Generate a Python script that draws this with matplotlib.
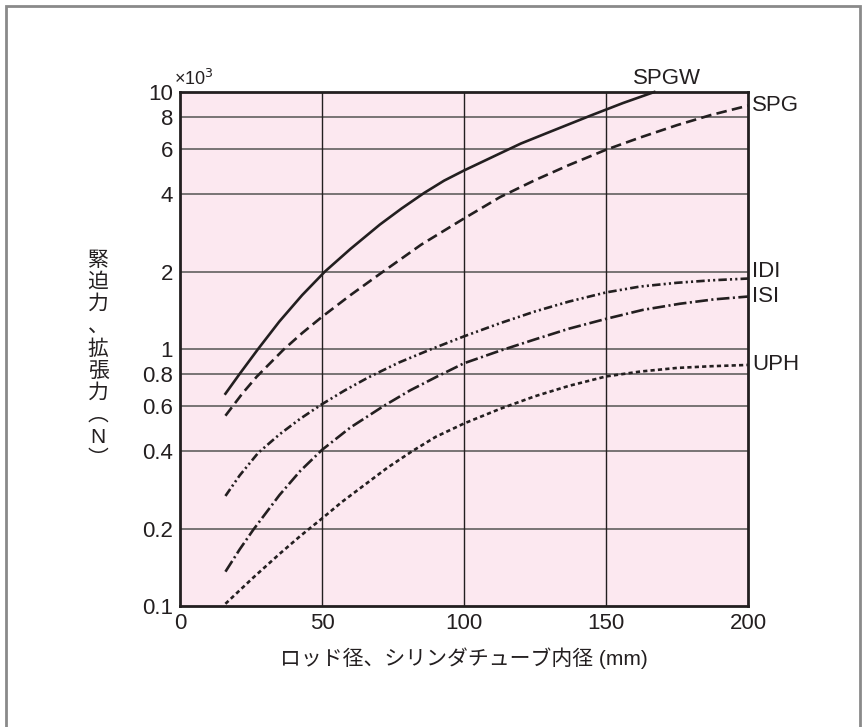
"""Clamping / expanding force vs rod / cylinder tube diameter."""

import matplotlib
matplotlib.use("Agg")
import matplotlib.pyplot as plt
from matplotlib.patches import Rectangle
from matplotlib.ticker import FixedLocator, NullLocator

plt.rcParams["font.family"] = ["Liberation Sans", "Noto Sans CJK JP", "DejaVu Sans"]

COLORS = {
    "ink": "#231f20",
    "grid": "#6e6a6b",
    "panel": "#fce8f0",
    "frame": "#8a8a8a",
}

# values in x10^3 N
spgw_x = [16, 21, 27.5, 35, 43, 51, 60, 70.4, 78, 86, 93, 100, 112.7, 120, 130, 145, 156, 167]
spgw_y = [0.67, 0.8, 1.0, 1.28, 1.62, 2.0, 2.45, 3.05, 3.52, 4.05, 4.52, 4.95, 5.77, 6.3, 6.98,
          8.13, 9.06, 10.0]

spg_x = [16, 22, 27, 36.4, 43, 50, 60, 70.4, 85, 100, 112.7, 125, 137, 150, 162, 175, 187, 200]
spg_y = [0.55, 0.672, 0.78, 0.993, 1.153, 1.334, 1.62, 1.96, 2.55, 3.22, 3.9, 4.54, 5.2, 5.96,
         6.65, 7.43, 8.14, 8.85]

idi_x = [16, 21, 27.5, 35, 42.3, 50, 58, 66.3, 77, 88.6, 100, 112.7, 125, 137, 150, 162, 175,
         187, 200]
idi_y = [0.268, 0.322, 0.394, 0.465, 0.535, 0.61, 0.69, 0.775, 0.885, 1.0, 1.12, 1.26, 1.4,
         1.53, 1.66, 1.75, 1.81, 1.85, 1.88]

isi_x = [16, 21, 25.8, 35, 42.3, 50, 60, 71.7, 81, 90.4, 100, 112.7, 125, 137, 150, 163, 176,
         188, 200]
isi_y = [0.136, 0.166, 0.198, 0.27, 0.335, 0.405, 0.495, 0.6, 0.69, 0.78, 0.88, 0.985, 1.09,
         1.2, 1.31, 1.42, 1.5, 1.56, 1.6]

uph_x = [16, 21, 25.8, 35.2, 42.3, 50, 57, 65.7, 73, 81.7, 90, 100, 112.7, 125, 137, 150, 162,
         175, 187, 200]
uph_y = [0.102, 0.115, 0.129, 0.16, 0.187, 0.219, 0.254, 0.3, 0.345, 0.4, 0.455, 0.513, 0.585,
         0.655, 0.719, 0.782, 0.817, 0.844, 0.857, 0.867]

x_ticks = [0, 50, 100, 150, 200]
y_ticks = [0.1, 0.2, 0.4, 0.6, 0.8, 1, 2, 4, 6, 8, 10]
y_tick_labels = ["0.1", "0.2", "0.4", "0.6", "0.8", "1", "2", "4", "6", "8", "10"]

# name, x, y, dash pattern, label offset (points)
series = [
    ("SPGW", spgw_x, spgw_y, None, (9, 2)),
    ("SPG", spg_x, spg_y, (4, 2), (3, 0)),
    ("IDI", idi_x, idi_y, (3.2, 1.2, 0.8, 1.2, 0.8, 1.2), (3, 5)),
    ("ISI", isi_x, isi_y, (4.8, 1.3, 0.8, 1.3), (3, 0)),
    ("UPH", uph_x, uph_y, (1.6, 1.2), (3, 0)),
]

fig = plt.figure(figsize=(8.64, 7.27), dpi=100)
fig.patch.set_facecolor("white")
fig.patches.append(Rectangle((6 / 864, -0.05), 854 / 864, 1.05 - 6 / 727,
                             transform=fig.transFigure, fill=False,
                             edgecolor=COLORS["frame"], linewidth=2))

ax = fig.add_axes([180 / 864, 1 - 606 / 727, 568 / 864, 514 / 727])
ax.set_facecolor(COLORS["panel"])
ax.set_yscale("log")
ax.set_xlim(0, 200)
ax.set_ylim(0.1, 10)

ax.yaxis.set_major_locator(FixedLocator(y_ticks))
ax.yaxis.set_minor_locator(NullLocator())
ax.set_yticklabels(y_tick_labels)
ax.set_xticks(x_ticks)
ax.tick_params(length=0, labelsize=16, colors=COLORS["ink"])
ax.tick_params(axis="y", pad=5)
ax.tick_params(axis="x", pad=5)

for v in y_ticks[1:-1]:
    ax.axhline(v, color=COLORS["grid"], linewidth=1.3, zorder=1)
for v in x_ticks[1:-1]:
    ax.axvline(v, color=COLORS["ink"], linewidth=1.0, zorder=1)
for spine in ax.spines.values():
    spine.set_color(COLORS["ink"])
    spine.set_linewidth(2)

for name, xs, ys, dashes, offset in series:
    line, = ax.plot(xs, ys, color=COLORS["ink"], linewidth=1.9, zorder=3,
                    clip_on=False)
    if dashes is not None:
        line.set_dashes(dashes)
    if name == "SPGW":
        ax.annotate(name, (xs[-1], ys[-1]), xytext=offset, textcoords="offset points",
                    ha="center", va="bottom", fontsize=16, color=COLORS["ink"],
                    annotation_clip=False)
    else:
        ax.annotate(name, (xs[-1], ys[-1]), xytext=offset, textcoords="offset points",
                    ha="left", va="center", fontsize=16, color=COLORS["ink"],
                    annotation_clip=False)

ax.annotate("×10$^3$", (0, 1), xycoords="axes fraction", xytext=(-4, 5),
            textcoords="offset points", ha="left", va="baseline",
            fontsize=13, color=COLORS["ink"])

ax.set_xlabel("ロッド径、シリンダチューブ内径 (mm)", fontsize=15,
              color=COLORS["ink"], labelpad=10)
fig.text(98 / 864, 1 - 360 / 727, "\n".join("緊迫力、拡張力︵N︶"), ha="center",
         va="center", fontsize=15, color=COLORS["ink"], linespacing=1.2)

fig.savefig("out.png", dpi=100, facecolor=fig.get_facecolor())
